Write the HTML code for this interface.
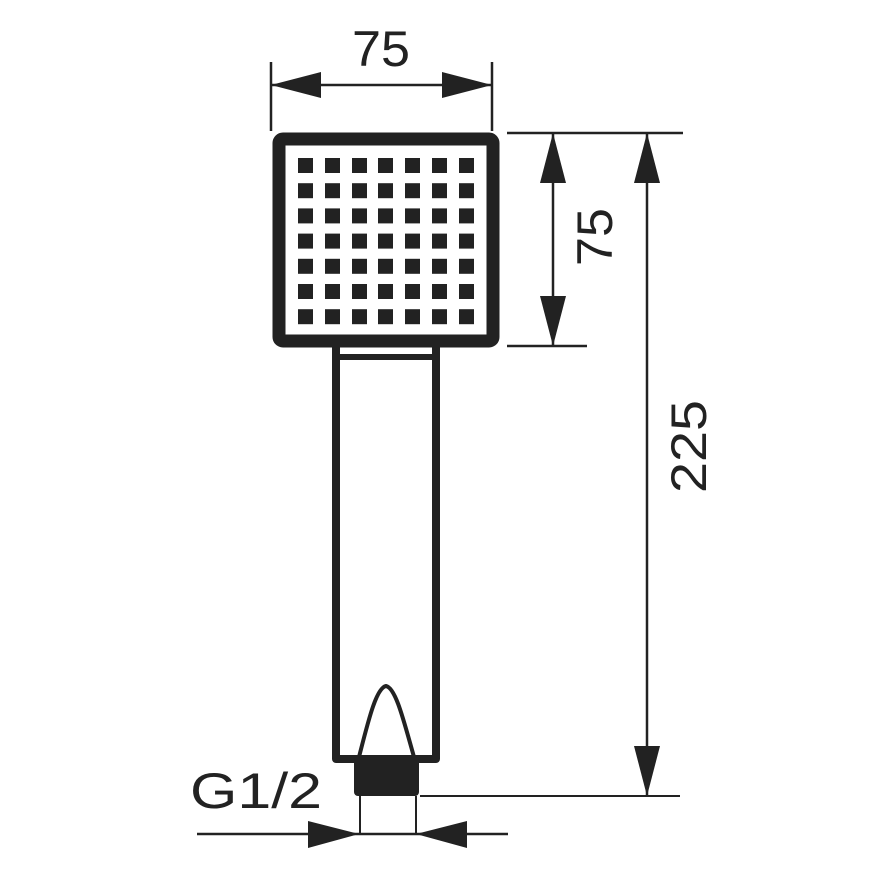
<!DOCTYPE html>
<html><head><meta charset="utf-8"><style>html,body{margin:0;padding:0;background:#fff}svg{display:block}</style></head><body>
<svg width="870" height="870" viewBox="0 0 870 870" xmlns="http://www.w3.org/2000/svg">
<rect width="870" height="870" fill="#fff"/>
<g fill="none" stroke="#222">
<rect x="279" y="139" width="214" height="202" rx="4" stroke-width="13"/>
<rect x="336" y="343" width="101" height="14" stroke-width="6"/>
<path d="M336 343 V759 H436 V343" stroke-width="8" stroke-linejoin="round"/>
<path d="M359 757 C368 722 376 688 386 686 C396 688 404 722 414 757" stroke-width="4"/>
<path d="M360 796 V834 M416 796 V834" stroke-width="2"/>
<path d="M197 834 H508" stroke-width="2.5"/>
<path d="M420 796 H680" stroke-width="2"/>
<path d="M271 62 V131 M492 62 V131" stroke-width="2.5"/>
<path d="M271 85 H492" stroke-width="2.5"/>
<path d="M507 133 H683 M507 346 H587" stroke-width="2.5"/>
<path d="M553 133 V346 M647 133 V796" stroke-width="2.5"/>
</g>
<g fill="#222">
<rect x="354" y="757" width="65" height="39" rx="4"/>
<polygon points="308,821 359,834 308,848"/>
<polygon points="467,821 416,834 467,848"/>
<polygon points="271,85 321,72 321,98"/>
<polygon points="492,85 442,72 442,98"/>
<polygon points="553,133 540,183 566,183"/>
<polygon points="553,346 540,296 566,296"/>
<polygon points="647,133 634,183 660,183"/>
<polygon points="647,796 634,746 660,746"/>
<g id="row">
<rect x="298" y="158" width="15" height="15"/><rect x="325" y="158" width="15" height="15"/><rect x="352" y="158" width="15" height="15"/><rect x="378" y="158" width="15" height="15"/><rect x="405" y="158" width="15" height="15"/><rect x="432" y="158" width="15" height="15"/><rect x="459" y="158" width="15" height="15"/>
</g>
<use href="#row" y="25.2"/><use href="#row" y="50.4"/><use href="#row" y="75.6"/><use href="#row" y="100.8"/><use href="#row" y="126"/><use href="#row" y="151.2"/>
</g>
<g font-family="Liberation Sans, sans-serif" font-size="50" fill="#222">
<text x="352" y="66" textLength="58" lengthAdjust="spacingAndGlyphs">75</text>
<text x="190" y="808" textLength="132" lengthAdjust="spacingAndGlyphs">G1/2</text>
<text transform="translate(612,266) rotate(-90)" textLength="58" lengthAdjust="spacingAndGlyphs">75</text>
<text transform="translate(706,493) rotate(-90)" textLength="93" lengthAdjust="spacingAndGlyphs">225</text>
</g>
</svg>
</body></html>
